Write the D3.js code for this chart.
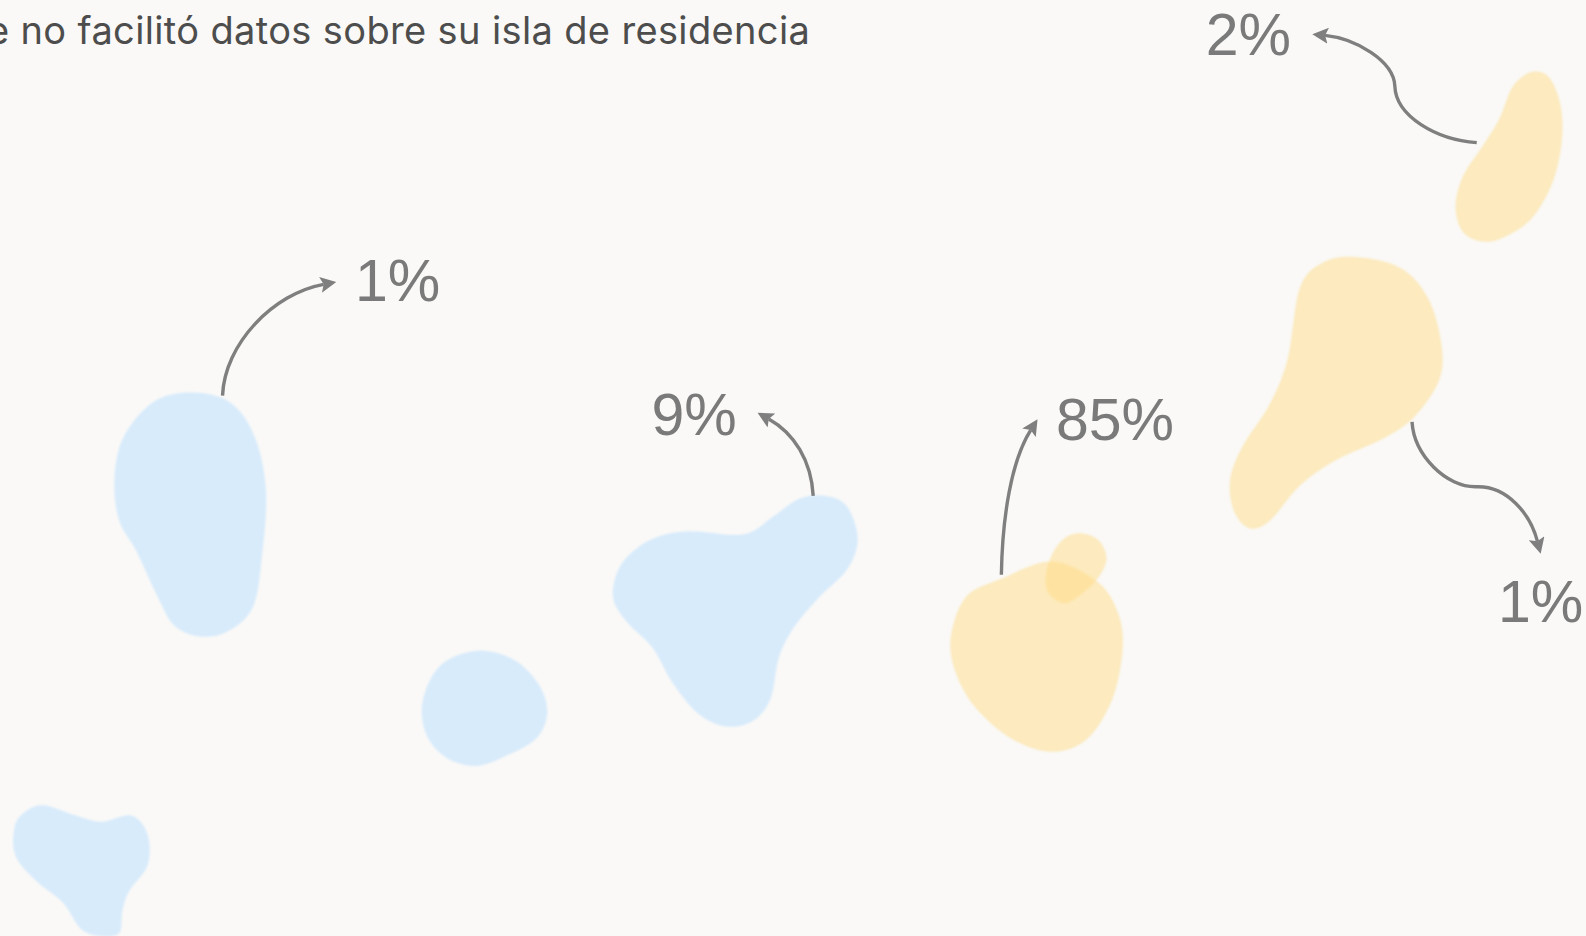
<!DOCTYPE html>
<html><head><meta charset="utf-8">
<script src="https://cdn.jsdelivr.net/npm/d3@7"></script>
<style>html,body{margin:0;padding:0;background:#faf9f7;overflow:hidden}svg{display:block}</style>
</head><body><svg id="c" width="1586" height="936"></svg>
<script>
const noteText = "e no facilitó datos sobre su isla de residencia";
const labels = ["1%","9%","85%","2%","1%"];
const laPalma = [[190,388],[228,398],[252,432],[263,485],[259,550],[250,600],[225,624],[197,629],[172,618],[155,588],[135,545],[118,515],[113,475],[122,432],[152,397]];
const gomera = [[472,643],[508,652],[533,677],[541,705],[530,730],[500,747],[470,757],[440,748],[421,725],[418,692],[436,657]];
const hierro = [[45,796],[75,806],[100,812],[130,806],[146,825],[146,855],[128,880],[121,900],[118,922],[100,925],[80,918],[62,892],[35,870],[15,845],[15,815],[28,800]];
const tenerife = [[815,490],[837,500],[848,532],[838,562],[810,590],[785,620],[770,650],[762,690],[745,712],[718,718],[690,705],[665,675],[645,640],[620,615],[606,590],[614,558],[642,534],[680,525],[735,528],[765,510],[790,493]];
const granCanaria = [[990,572],[1040,555],[1085,575],[1105,605],[1110,640],[1100,690],[1075,730],[1040,743],[1000,730],[965,700],[945,665],[940,630],[955,590]];
const isleta = [[1065,527],[1085,533],[1094,552],[1085,572],[1068,588],[1052,596],[1036,585],[1035,562],[1047,537]];
const fuerteventura = [[1340,254],[1385,265],[1412,295],[1425,340],[1423,375],[1400,410],[1370,432],[1320,455],[1285,480],[1255,515],[1235,522],[1220,505],[1216,475],[1228,442],[1255,400],[1273,355],[1285,285],[1307,260]];
const lanzarote = [[1515,71],[1532,77],[1543,105],[1544,140],[1535,180],[1515,215],[1490,233],[1468,239],[1447,230],[1439,205],[1446,175],[1464,147],[1482,118],[1496,85]];
const blueIslands = [laPalma, gomera, hierro, tenerife];
const yellowIslands = [granCanaria, isleta, fuerteventura, lanzarote];
const labelPos = [[351,297],[644,430],[1044,435],[1192,54],[1481,615]];
const arrows = [
  [[220,391],[222,340],[270,290],[320,281]],
  [[804,490],[802,455],[785,428],[760,414]],
  [[990,568],[991,510],[1000,455],[1019,425]],
  [[1460,141],[1420,138],[1380,115],[1379,85],[1378,60],[1340,38],[1310,35]],
  [[1396,417],[1398,450],[1430,482],[1460,481],[1490,480],[1513,508],[1520,535]]
];

const x = d3.scaleLinear().domain([0,1568]).range([0,1586]);
const y = d3.scaleLinear().domain([0,925]).range([0,936]);
const svg = d3.select("#c");
svg.append("rect").attr("width",1586).attr("height",936).attr("fill","#faf9f7");

const defs = svg.append("defs");
defs.append("marker").attr("id","head").attr("viewBox","0 0 10 10").attr("refX",2).attr("refY",5)
  .attr("markerWidth",16).attr("markerHeight",16).attr("markerUnits","userSpaceOnUse").attr("orient","auto")
  .append("path").attr("d","M0,0L10,5L0,10L2,5Z").attr("fill","#7f7f7f");
defs.append("filter").attr("id","soft").append("feGaussianBlur").attr("stdDeviation",1);

const outline = d3.line().x(d=>x(d[0])).y(d=>y(d[1])).curve(d3.curveCatmullRomClosed.alpha(0));
function islands(data, color, op){
  svg.append("g").attr("filter","url(#soft)").selectAll("path").data(data).join("path")
    .attr("d",outline).attr("fill",color).attr("fill-opacity",op);
}
islands(blueIslands,"#d8ebfb",1);
islands(yellowIslands,"#ffdc85",0.5);

function bez(p){
  let s=`M${x(p[0][0])},${y(p[0][1])}`;
  for(let i=1;i+2<p.length;i+=3){
    s+=`C${x(p[i][0])},${y(p[i][1])} ${x(p[i+1][0])},${y(p[i+1][1])} ${x(p[i+2][0])},${y(p[i+2][1])}`;
  }
  return s;
}
svg.append("g").selectAll("path").data(arrows).join("path")
  .attr("d",bez).attr("fill","none").attr("stroke","#7f7f7f").attr("stroke-width",3.4)
  .attr("marker-end","url(#head)");

svg.append("g").selectAll("text").data(labels).join("text")
  .attr("x",(d,i)=>x(labelPos[i][0])).attr("y",(d,i)=>y(labelPos[i][1]))
  .attr("font-family","'Liberation Sans',Arial,sans-serif").attr("font-size",59)
  .attr("fill","#7a7a7a").text(d=>d);

svg.append("text").attr("x",x(801)).attr("y",y(43)).attr("text-anchor","end")
  .attr("font-family","'Inter','Open Sans',sans-serif").attr("font-size",38).attr("letter-spacing",0.36)
  .attr("fill","#4d4d4d").text(noteText);
</script></body></html>
